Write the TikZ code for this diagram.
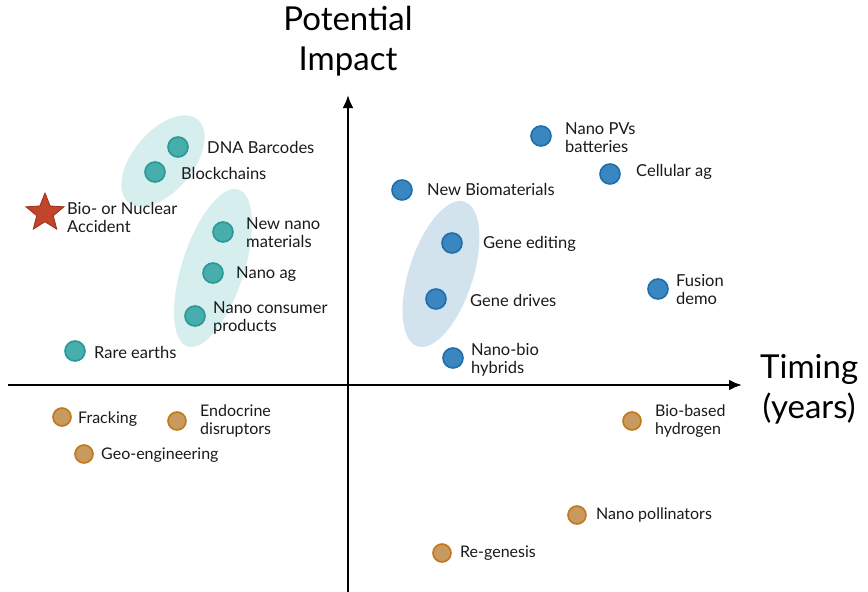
\documentclass[tikz,border=0pt]{standalone}
\usepackage{fontspec}
\setmainfont{Lato}
\usetikzlibrary{shapes.geometric,arrows.meta}
\definecolor{tealf}{HTML}{48AEAB}
\definecolor{teald}{HTML}{2A9898}
\definecolor{bluef}{HTML}{3A86C0}
\definecolor{blued}{HTML}{1F6DAA}
\definecolor{orgf}{HTML}{C99A60}
\definecolor{orgd}{HTML}{C07818}
\definecolor{tealbg}{HTML}{D6EEEE}
\definecolor{bluebg}{HTML}{D2E3EE}
\definecolor{starf}{HTML}{C2442A}
\definecolor{stard}{HTML}{9A2E1A}
\definecolor{txt}{HTML}{1A1A1A}
\tikzset{
  dot/.style={circle,minimum size=20pt,inner sep=0pt,line width=1.6pt},
  tdot/.style={dot,fill=tealf,draw=teald},
  bdot/.style={dot,fill=bluef,draw=blued},
  odot/.style={dot,fill=orgf,draw=orgd,minimum size=18pt},
  lbl/.style={anchor=west,inner sep=0pt,align=left,text=txt,font=\fontsize{16.5}{18}\selectfont},
  olbl/.style={lbl,font=\fontsize{16}{18}\selectfont},
  title/.style={inner sep=0pt,align=center,font=\fontsize{33}{40}\selectfont},
  axis/.style={line width=2.4pt,-{Latex[length=13pt,width=11pt]}},
  grp/.style={ellipse,inner sep=0pt}
}
\begin{document}
\begin{tikzpicture}[x=1pt,y=-1pt]
\useasboundingbox (0,0) rectangle (868,592);
% group ellipses
\node[grp,fill=tealbg,minimum width=108pt,minimum height=60pt,rotate=50] (g1) at (163,161) {};
\node[grp,fill=tealbg,minimum width=165pt,minimum height=62pt,rotate=72] (g2) at (213,268) {};
\node[grp,fill=bluebg,minimum width=152pt,minimum height=64pt,rotate=72] (g3) at (441,274) {};
% axes
\coordinate (xs) at (8,385);
\coordinate (xe) at (742,385);
\coordinate (ys) at (348,592);
\coordinate (ye) at (348,95);
\draw[axis] (xs) -- (xe);
\draw[axis] (ys) -- (ye);
\node[title] (ttl) at (348,41) {Potential\\Impact};
\node[title,anchor=west] (tim) at (760,389) {Timing\\(years)};
% teal
\node[tdot] (dna) at (178,147) {};
\node[lbl] (ldna) at (207,147) {DNA Barcodes};
\node[tdot] (blk) at (155,172) {};
\node[lbl] (lblk) at (181,173) {Blockchains};
\node[tdot] (nnm) at (223,232) {};
\node[lbl] (lnnm) at (246,233) {New nano\\materials};
\node[tdot] (nag) at (213,273) {};
\node[lbl] (lnag) at (236,274) {Nano ag};
\node[tdot] (ncp) at (195,316) {};
\node[lbl] (lncp) at (213,318) {Nano consumer\\products};
\node[tdot] (rare) at (75,351) {};
\node[lbl] (lrare) at (94,352) {Rare earths};
\node[star,star points=5,star point ratio=2.3,minimum size=40pt,inner sep=0pt,fill=starf,draw=stard,line width=0.8pt] (star) at (45,213) {};
\node[lbl] (lstar) at (67,217) {Bio- or Nuclear\\Accident};
% blue
\node[bdot] (pv) at (541,136) {};
\node[lbl] (lpv) at (565,138) {Nano PVs\\batteries};
\node[bdot] (cel) at (610,174) {};
\node[lbl] (lcel) at (636,172) {Cellular ag};
\node[bdot] (nbm) at (402,190) {};
\node[lbl] (lnbm) at (427,189) {New Biomaterials};
\node[bdot] (ged) at (452,243) {};
\node[lbl] (lged) at (483,244) {Gene editing};
\node[bdot] (gdr) at (436,299) {};
\node[lbl] (lgdr) at (470,300) {Gene drives};
\node[bdot] (fus) at (658,289) {};
\node[lbl] (lfus) at (676,290) {Fusion\\demo};
\node[bdot] (nbh) at (453,358) {};
\node[lbl] (lnbh) at (471,360) {Nano-bio\\hybrids};
% orange
\node[odot] (frk) at (62,417) {};
\node[olbl] (lfrk) at (78,419) {Fracking};
\node[odot] (end) at (177,421) {};
\node[olbl] (lend) at (200,421) {Endocrine\\disruptors};
\node[odot] (geo) at (84,454) {};
\node[olbl] (lgeo) at (101,455) {Geo-engineering};
\node[odot] (bio) at (632,421) {};
\node[olbl] (lbio) at (655,421) {Bio-based\\hydrogen};
\node[odot] (pol) at (577,515) {};
\node[olbl] (lpol) at (596,515) {Nano pollinators};
\node[odot] (reg) at (442,553) {};
\node[olbl] (lreg) at (460,553) {Re-genesis};
\end{tikzpicture}
\end{document}
